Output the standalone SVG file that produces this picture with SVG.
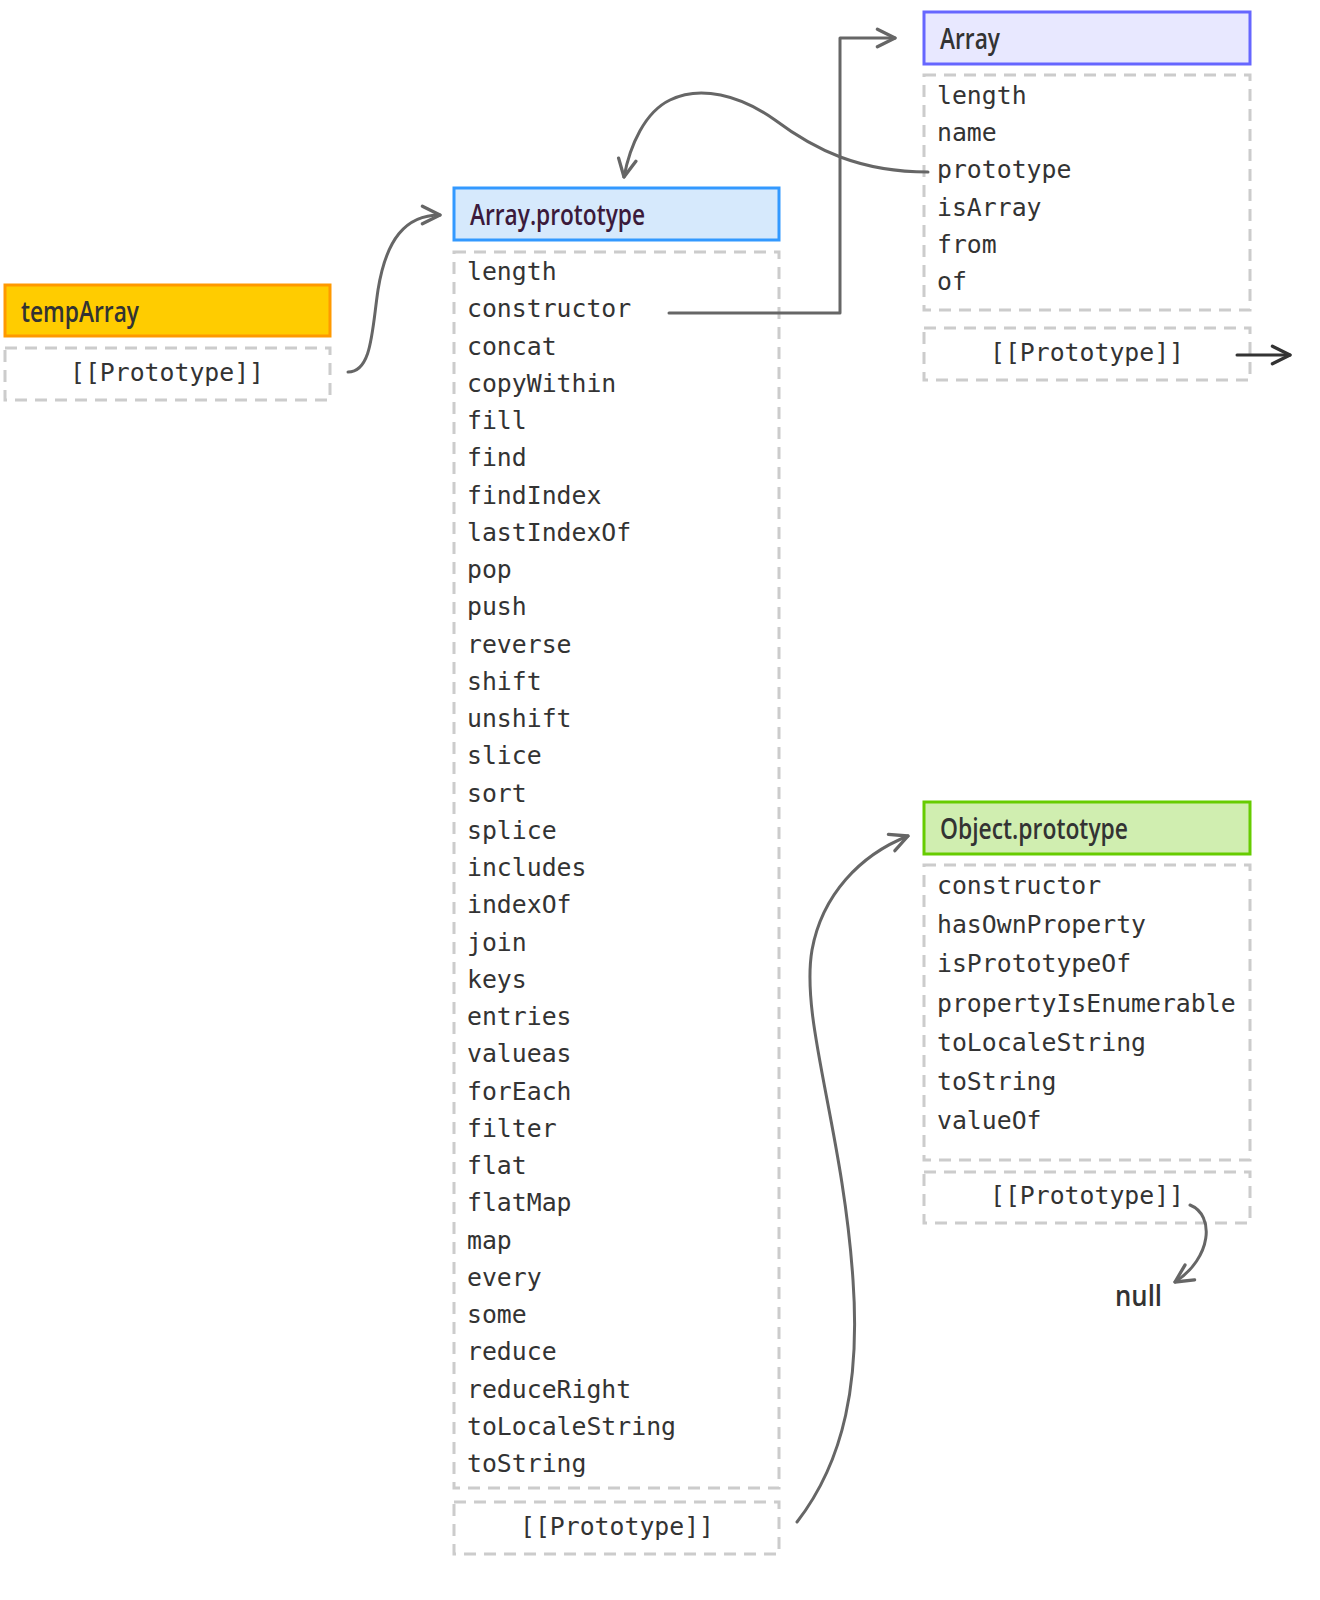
<svg xmlns="http://www.w3.org/2000/svg" width="1320" height="1600" viewBox="0 0 1320 1600">
<style>
.hdr{stroke-width:3}
.box{fill:#fff;stroke:#cccccc;stroke-width:3;stroke-dasharray:12 8}
.ht{font-family:"Open Sans","DejaVu Sans",sans-serif;font-weight:600;font-size:28px;fill:#333}
.it{font-family:"DejaVu Sans Mono","Liberation Mono",monospace;font-size:24.8px;fill:#333}
.pt{font-family:"DejaVu Sans Mono","Liberation Mono",monospace;font-size:24.8px;fill:#333;text-anchor:middle}
.cn{fill:none;stroke:#666;stroke-width:3;stroke-linecap:round;stroke-linejoin:round}
</style>
<defs>
<marker id="ah" viewBox="0 0 20 20" refX="18" refY="10" markerWidth="22" markerHeight="22" markerUnits="userSpaceOnUse" orient="auto">
<path d="M2,2 L18,10 L2,18" fill="none" stroke="#666" stroke-width="3" stroke-linecap="round" stroke-linejoin="round"/>
</marker>
<marker id="ahd" viewBox="0 0 20 20" refX="18" refY="10" markerWidth="22" markerHeight="22" markerUnits="userSpaceOnUse" orient="auto">
<path d="M2,2 L18,10 L2,18" fill="none" stroke="#333" stroke-width="3" stroke-linecap="round" stroke-linejoin="round"/>
</marker>
</defs>

<g id="tempArray">
<rect class="hdr" x="5" y="285" width="325" height="51" fill="#ffcc00" stroke="#ff9900"/>
<text class="ht" x="21" y="322" textLength="118" lengthAdjust="spacingAndGlyphs">tempArray</text>
<rect class="box" x="5" y="348" width="325" height="52"/>
<text class="pt" x="167" y="381">[[Prototype]]</text>
</g>

<g id="ArrayPrototype">
<rect class="hdr" x="454" y="188" width="325" height="52" fill="#d6e9fc" stroke="#3399ff"/>
<text class="ht" x="470" y="225" textLength="175" lengthAdjust="spacingAndGlyphs" style="fill:#3b1a3b">Array.prototype</text>
<rect class="box" x="454" y="252" width="325" height="1236"/>
<g class="it">
<text x="467" y="280">length</text>
<text x="467" y="317.3">constructor</text>
<text x="467" y="354.5">concat</text>
<text x="467" y="391.8">copyWithin</text>
<text x="467" y="429">fill</text>
<text x="467" y="466.3">find</text>
<text x="467" y="503.5">findIndex</text>
<text x="467" y="540.8">lastIndexOf</text>
<text x="467" y="578">pop</text>
<text x="467" y="615.3">push</text>
<text x="467" y="652.5">reverse</text>
<text x="467" y="689.8">shift</text>
<text x="467" y="727">unshift</text>
<text x="467" y="764.3">slice</text>
<text x="467" y="801.5">sort</text>
<text x="467" y="838.8">splice</text>
<text x="467" y="876">includes</text>
<text x="467" y="913.3">indexOf</text>
<text x="467" y="950.5">join</text>
<text x="467" y="987.8">keys</text>
<text x="467" y="1025">entries</text>
<text x="467" y="1062.3">valueas</text>
<text x="467" y="1099.5">forEach</text>
<text x="467" y="1136.8">filter</text>
<text x="467" y="1174">flat</text>
<text x="467" y="1211.3">flatMap</text>
<text x="467" y="1248.5">map</text>
<text x="467" y="1285.8">every</text>
<text x="467" y="1323">some</text>
<text x="467" y="1360.3">reduce</text>
<text x="467" y="1397.5">reduceRight</text>
<text x="467" y="1434.8">toLocaleString</text>
<text x="467" y="1472">toString</text>
</g>
<rect class="box" x="454" y="1502" width="325" height="52"/>
<text class="pt" x="617" y="1535">[[Prototype]]</text>
</g>

<g id="Array">
<rect class="hdr" x="924" y="12" width="326" height="52" fill="#e8e8ff" stroke="#6666ff"/>
<text class="ht" x="940" y="49" textLength="60" lengthAdjust="spacingAndGlyphs">Array</text>
<rect class="box" x="924" y="75" width="326" height="235"/>
<g class="it">
<text x="937" y="104">length</text>
<text x="937" y="141.2">name</text>
<text x="937" y="178.4">prototype</text>
<text x="937" y="215.6">isArray</text>
<text x="937" y="252.8">from</text>
<text x="937" y="290">of</text>
</g>
<rect class="box" x="924" y="328" width="326" height="52"/>
<text class="pt" x="1087" y="361">[[Prototype]]</text>
</g>

<g id="ObjectPrototype">
<rect class="hdr" x="924" y="802" width="326" height="52" fill="#d0eeb0" stroke="#66cc00"/>
<text class="ht" x="940" y="839" textLength="188" lengthAdjust="spacingAndGlyphs">Object.prototype</text>
<rect class="box" x="924" y="865" width="326" height="295"/>
<g class="it">
<text x="937" y="894">constructor</text>
<text x="937" y="933.2">hasOwnProperty</text>
<text x="937" y="972.4">isPrototypeOf</text>
<text x="937" y="1011.6">propertyIsEnumerable</text>
<text x="937" y="1050.8">toLocaleString</text>
<text x="937" y="1090">toString</text>
<text x="937" y="1129.2">valueOf</text>
</g>
<rect class="box" x="924" y="1172" width="326" height="51"/>
<text class="pt" x="1087" y="1204">[[Prototype]]</text>
</g>

<g id="null">
<text class="ht" x="1115" y="1306" textLength="47" lengthAdjust="spacingAndGlyphs">null</text>
</g>

<g id="connectors">
<path class="cn" marker-end="url(#ah)" d="M348,372 C372,372 372,330 378,290 C386,240 405,215 440,215"/>
<path class="cn" marker-end="url(#ah)" d="M669,313 L840,313 L840,38 L895,38"/>
<path class="cn" marker-end="url(#ah)" d="M928,172 C860,172 815,150 775,120 C740,95 700,85 670,100 C645,112 630,145 624,177"/>
<path class="cn" marker-end="url(#ah)" d="M797,1522 C845,1460 860,1380 853,1280 C843,1130 800,1020 812,950 C822,895 860,855 908,836"/>
<path class="cn" marker-end="url(#ah)" d="M1190,1205 C1215,1215 1212,1258 1175,1282"/>
<path class="cn" style="stroke:#333" marker-end="url(#ahd)" d="M1237,355 L1290,355"/>
</g>
</svg>
